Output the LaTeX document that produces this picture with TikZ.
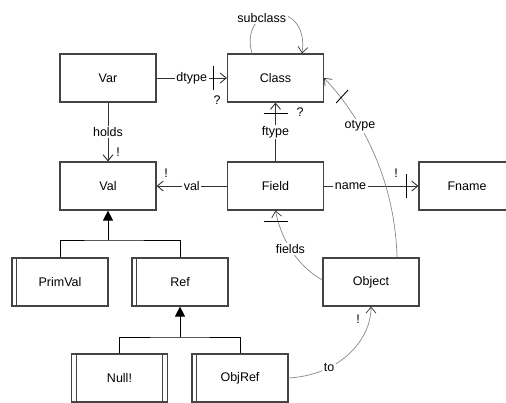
\documentclass[tikz,border=0pt]{standalone}
\usepackage{fontspec}
\setmainfont{Liberation Sans}
\usetikzlibrary{arrows.meta}
\definecolor{boxc}{HTML}{444444}
\definecolor{linec}{HTML}{333333}
\definecolor{curvec}{HTML}{888888}
\begin{document}
\begin{tikzpicture}[x=1pt,y=-1pt,
  box/.style={draw=boxc, line width=1.2pt, minimum width=96pt, minimum height=48pt, inner sep=0pt, font=\fontsize{12.5}{14}\selectfont},
  rel/.style={draw=linec, line width=0.9pt, -{Straight Barb[length=6pt,width=10pt]}},
  curve/.style={draw=curvec, line width=0.7pt, -{Straight Barb[length=6pt,width=10pt,color=linec]}},
  inh/.style={draw=black, line width=1pt},
  lbl/.style={fill=white, inner sep=1.5pt, font=\fontsize{12.5}{14}\selectfont},
  tag/.style={inner sep=0pt, font=\fontsize{12.5}{14}\selectfont},
  bar/.style={draw=black, line width=0.9pt},
  innerline/.style={draw=boxc, line width=1pt}]
\useasboundingbox (0,0) rectangle (506,402);
% boxes
\node[box] (var) at (108,78) {Var};
\node[box] (class) at (275.5,78) {Class};
\node[box] (val) at (108,186) {Val};
\node[box] (field) at (275.5,186) {Field};
\node[box] (fname) at (467,186) {Fname};
\node[box] (primval) at (60,282) {PrimVal};
\node[box] (ref) at (180,282) {Ref};
\node[box] (object) at (371,282) {Object};
\node[box] (null) at (119.5,378) {Null!};
\node[box] (objref) at (240,378) {ObjRef};
% double borders
\draw[innerline] ([xshift=5.5pt]primval.north west) -- ([xshift=5.5pt]primval.south west);
\draw[innerline] ([xshift=5.5pt]ref.north west) -- ([xshift=5.5pt]ref.south west);
\draw[innerline] ([xshift=5.5pt]null.north west) -- ([xshift=5.5pt]null.south west);
\draw[innerline] ([xshift=-5.5pt]null.north east) -- ([xshift=-5.5pt]null.south east);
\draw[innerline] ([xshift=5.5pt]objref.north west) -- ([xshift=5.5pt]objref.south west);
% inheritance
\coordinate (j1) at (108,240);
\draw[inh] (primval.north) |- (j1) -| (ref.north);
\draw[inh,-{Triangle[length=10pt,width=10pt]}] (j1) -- (val.south);
\coordinate (j2) at (180,337);
\draw[inh] (null.north) |- (j2) -| (objref.north);
\draw[inh,-{Triangle[length=10pt,width=10pt]}] (j2) -- (ref.south);
% holds
\draw[rel] (var.south) -- (val.north) node[lbl,midway]{holds};
\node[tag] (m1) at (118,152) {!};
% dtype
\draw[rel] (var.east) -- (class.west) node[lbl,midway]{dtype};
\draw[bar] ([xshift=-13pt,yshift=-12pt]class.west) -- ([xshift=-13pt,yshift=12pt]class.west);
\node[tag] (q1) at (217,100) {?};
% ftype
\draw[rel] (field.north) -- (class.south) node[lbl,midway]{ftype};
\draw[bar] ([xshift=-12pt,yshift=-11pt]class.south) -- ([xshift=12pt,yshift=-11pt]class.south);
\node[tag] (q2) at (300,112) {?};
% val
\draw[rel] (field.west) -- (val.east) node[lbl,midway]{val};
\node[tag] (m2) at (166,173) {!};
% name
\draw[rel] (field.east) -- (fname.west) node[lbl,pos=0.28]{name};
\draw[bar] ([xshift=-12pt,yshift=-12pt]fname.west) -- ([xshift=-12pt,yshift=12pt]fname.west);
\node[tag] (m3) at (396,173) {!};
% subclass
\draw[curve] ([xshift=-23.5pt]class.north) .. controls (238,3) and (310,-2) .. ([xshift=26.5pt]class.north) node[lbl,pos=0.35]{subclass};
% otype
\draw[curve] ([xshift=26pt]object.north) .. controls (395,180) and (362,118) .. (class.east) node[lbl,pos=0.66]{otype};
\draw[bar] ([xshift=12pt,yshift=-25pt]class.east) -- ([xshift=24pt,yshift=-12pt]class.east);
% fields
\draw[curve] ([yshift=2pt]object.west) .. controls (295,265) and (280,235) .. (field.south) node[lbl,pos=0.5]{fields};
\draw[bar] ([xshift=-12pt,yshift=-11pt]field.south) -- ([xshift=12pt,yshift=-11pt]field.south);
% to
\draw[curve] (objref.east) .. controls (340,375) and (371,340) .. (object.south) node[lbl,pos=0.3]{to};
\node[tag] (m4) at (358,319) {!};
\end{tikzpicture}
\end{document}
